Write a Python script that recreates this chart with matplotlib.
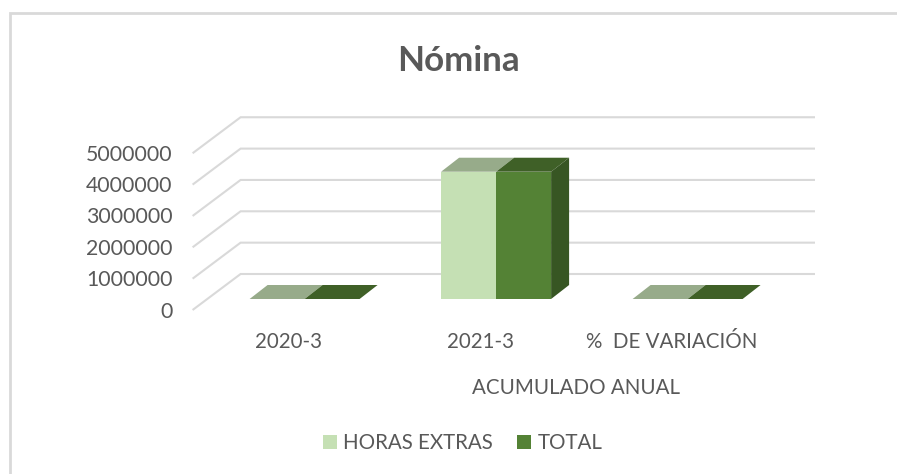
import matplotlib
matplotlib.use('Agg')
import matplotlib.pyplot as plt
from matplotlib.patches import Polygon, Patch, Rectangle

plt.rcParams['font.family'] = ['Lato', 'DejaVu Sans']

categories = ['2020-3', '2021-3', '%  DE VARIACIÓN']
horas_extras = [0, 4060000, 0]
total = [0, 4060000, 0]
y_ticks = [0, 1000000, 2000000, 3000000, 4000000, 5000000]

TEXT = '#595959'
GRID = '#d9d9d9'
LIGHT = {'front': '#c5e0b4', 'top': '#97ab8a'}
DARK = {'front': '#548235', 'top': '#3f6027', 'side': '#375623'}

W, H = 897, 474
PX_X = 191.5          # pixels per category
PX_Y = 31.35 / 1e6    # pixels per unit of value
X0, Y0 = 304.6, 299   # pixel of first category, value 0 on the bar front plane
BAR_W = 55 / PX_X
FS = 14.8

fig = plt.figure(figsize=(W / 100, H / 100), dpi=100)
ax = fig.add_axes([0, 0, 1, 1])
ax.set_xlim(-X0 / PX_X, (W - X0) / PX_X)
ax.set_ylim(-(H - Y0) / PX_Y, Y0 / PX_Y)
ax.axis('off')


def dx(px):
    return px / PX_X


def dy(px):
    return px / PX_Y


# floor front / back depth offsets in pixels, measured from the bar plane
front = (-112, -11)
back = (-64, 25)
right_end = dx(815 - X0)

for t in y_ticks:
    x1, y1 = dx(front[0]), t + dy(front[1])
    x2, y2 = dx(back[0]), t + dy(back[1])
    ax.plot([x1, x2, right_end], [y1, y2, y2], color=GRID, lw=1.5,
            solid_joinstyle='miter', solid_capstyle='butt', zorder=1)
    ax.text(dx(-132), t + dy(-12.5), str(t), ha='right', va='center', fontsize=15.3, color=TEXT)


def bar(x, v, c, side=False):
    d_x, d_y = dx(18), dy(14)
    ax.add_patch(Polygon([(x, v), (x + BAR_W, v), (x + BAR_W + d_x, v + d_y), (x + d_x, v + d_y)],
                         fc=c['top'], ec='none', zorder=3))
    if side:
        ax.add_patch(Polygon([(x + BAR_W, 0), (x + BAR_W + d_x, d_y), (x + BAR_W + d_x, v + d_y), (x + BAR_W, v)],
                             fc=c['side'], ec='none', zorder=3))
    ax.add_patch(Rectangle((x, 0), BAR_W, v, fc=c['front'], ec='none', zorder=4))


for i in range(len(categories)):
    bar(i - BAR_W, horas_extras[i], LIGHT)
    bar(i, total[i], DARK, side=True)
    ax.text(i + dx(-16), dy(-43), categories[i], ha='center', va='center', fontsize=FS, color=TEXT)

ax.text(1 + dx(80), dy(-89), 'ACUMULADO ANUAL', ha='center', va='center', fontsize=FS, color=TEXT)
ax.text(1 + dx(-38), dy(238), 'Nómina', ha='center', va='center', fontsize=25.2, fontweight='bold', color=TEXT)

# chart border, only left and top are visible in the crop
fig.add_artist(plt.Line2D([10 / W, 10 / W, 1], [0, 1 - 13 / H, 1 - 13 / H], color=GRID, lw=2,
                          solid_joinstyle='miter'))

handles = [Patch(fc=LIGHT['front'], label='HORAS EXTRAS'), Patch(fc=DARK['front'], label='TOTAL')]
fig.legend(handles=handles, loc='center', bbox_to_anchor=(462.5 / W, 1 - 443 / H), ncol=2, frameon=False,
           fontsize=FS, labelcolor=TEXT, handlelength=0.68, handleheight=0.68, handletextpad=0.3,
           columnspacing=1.2, borderpad=0)

plt.savefig('out.png', dpi=100)
